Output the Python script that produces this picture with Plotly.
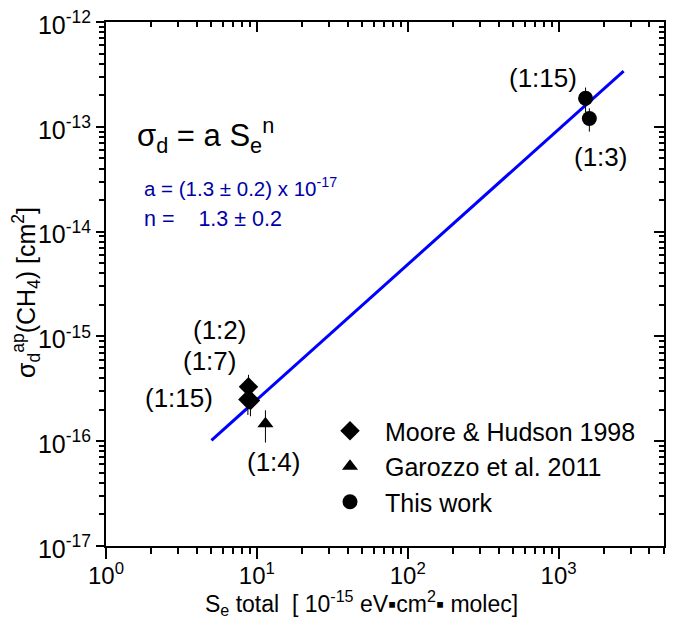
import plotly.graph_objects as go
import math

# ---------------- data ----------------
mh_x = [8.8, 8.72, 9.07]
mh_y = [3.3e-16, 2.5e-16, 2.45e-16]
mh_err = [1.0e-16, 0.72e-16, 0.72e-16]

gar_x = [11.4]
gar_y = [1.47e-16]
gar_err = [0.5e-16]

tw_x = [1510, 1600]
tw_y = [1.87e-13, 1.2e-13]
tw_err = [0.5e-13, 0.3e-13]

fit_x = [5, 2700]
fit_y = [1.02e-16, 3.4e-13]

x_major = [1, 10, 100, 1000]
x_major_text = ["10<sup>0</sup>", "10<sup>1</sup>", "10<sup>2</sup>", "10<sup>3</sup>"]
y_major = [1e-17, 1e-16, 1e-15, 1e-14, 1e-13, 1e-12]
y_major_text = ["10<sup>-17</sup>", "10<sup>-16</sup>", "10<sup>-15</sup>",
                "10<sup>-14</sup>", "10<sup>-13</sup>", "10<sup>-12</sup>"]

x_minor = [m * 10 ** e for e in range(0, 4) for m in range(2, 10) if m * 10 ** e <= 5000]
y_minor = [m * 10.0 ** e for e in range(-17, -12) for m in range(2, 10)]

FONT = "Liberation Sans, Arial, sans-serif"
W, H = 678, 627
L, R, T, B = 106, 14, 22, 81
PW, PH = W - L - R, H - T - B


def px(x):
    return (x - L) / PW


def py(y):
    return (H - B - y) / PH


fig = go.Figure()

fig.add_trace(go.Scatter(x=fit_x, y=fit_y, mode="lines",
                         line=dict(color="#0000FF", width=3), showlegend=False,
                         hoverinfo="skip"))

fig.add_trace(go.Scatter(x=mh_x, y=mh_y, mode="markers", name="Moore &amp; Hudson 1998",
                         marker=dict(symbol="diamond", size=15, color="black"),
                         error_y=dict(type="data", array=mh_err, color="black",
                                      thickness=1, width=0)))
fig.add_trace(go.Scatter(x=gar_x, y=gar_y, mode="markers", name="Garozzo et al. 2011",
                         marker=dict(symbol="triangle-up", size=14, color="black"),
                         error_y=dict(type="data", array=gar_err, color="black",
                                      thickness=1, width=0)))
fig.add_trace(go.Scatter(x=tw_x, y=tw_y, mode="markers", name="This work",
                         marker=dict(symbol="circle", size=15, color="black"),
                         error_y=dict(type="data", array=tw_err, color="black",
                                      thickness=1, width=0)))

# invisible trace for mirrored tick axes
fig.add_trace(go.Scatter(x=[10], y=[1e-15], xaxis="x2", yaxis="y2", mode="markers",
                         marker=dict(opacity=0), showlegend=False, hoverinfo="skip"))

xr = [0, math.log10(5000)]
yr = [-17, -12]

fig.update_layout(
    template="none",
    width=W, height=H,
    margin=dict(l=L, r=R, t=T, b=B, autoexpand=False),
    paper_bgcolor="white", plot_bgcolor="white",
    font=dict(family=FONT, color="black"),
    xaxis=dict(type="log", showgrid=False, zeroline=False, automargin=False,
               tickfont=dict(family=FONT, size=24, color="black"),
               range=xr, tickmode="array", tickvals=x_major, ticklabelstandoff=-4,
               ticktext=x_major_text, ticks="outside", ticklen=11, tickwidth=1.5,
               tickcolor="black",
               showline=True, linewidth=2, linecolor="black", mirror=True,
               minor=dict(tickmode="array", tickvals=x_minor, ticks="outside",
                          ticklen=6, tickwidth=1.5, tickcolor="black", showgrid=False)),
    yaxis=dict(type="log", showgrid=False, zeroline=False, automargin=False,
               tickfont=dict(family=FONT, size=25, color="black"),
               range=yr, tickmode="array", tickvals=y_major, ticklabelshift=3,
               ticktext=y_major_text, ticks="outside", ticklen=8, tickwidth=1.5,
               tickcolor="black",
               showline=True, linewidth=2, linecolor="black", mirror=True,
               minor=dict(tickmode="array", tickvals=y_minor, ticks="outside",
                          ticklen=5, tickwidth=1.5, tickcolor="black", showgrid=False)),
    xaxis2=dict(type="log", overlaying="x", side="top", range=xr, showgrid=False,
                zeroline=False, showticklabels=False, tickmode="array", tickvals=x_major,
                ticks="inside", ticklen=10, tickwidth=1.5, tickcolor="black",
                minor=dict(tickmode="array", tickvals=x_minor, ticks="inside",
                           ticklen=5, tickwidth=1.5, tickcolor="black", showgrid=False)),
    yaxis2=dict(type="log", overlaying="y", side="right", range=yr, showgrid=False,
                zeroline=False, showticklabels=False, tickmode="array", tickvals=y_major,
                ticks="inside", ticklen=10, tickwidth=1.5, tickcolor="black",
                minor=dict(tickmode="array", tickvals=y_minor, ticks="inside",
                           ticklen=5, tickwidth=1.5, tickcolor="black", showgrid=False)),
    legend=dict(x=px(315), y=py(408), xanchor="left", yanchor="top",
                bgcolor="rgba(0,0,0,0)", font=dict(family=FONT, size=25, color="black"),
                tracegroupgap=0, itemwidth=60, borderwidth=0),
    showlegend=True,
)

ann = []


def add_text(text, x, y, size, color="black", xanchor="center", angle=0):
    ann.append(dict(text=text, x=px(x), y=py(y), xref="paper", yref="paper",
                    showarrow=False, xanchor=xanchor, yanchor="middle",
                    textangle=angle,
                    font=dict(family=FONT, size=size, color=color)))


NB = "\u00a0"
# axis titles
add_text("σ<sub>d</sub><sup>ap</sup>(CH<sub>4</sub>) [cm<sup>2</sup>]", 26, 293, 25, angle=-90)
add_text("S<sub>e</sub> total" + NB * 2 + "[ 10<sup>-15</sup> eV\u25aacm<sup>2</sup>\u25aa molec]",
         361, 603, 23)

# equation
add_text("σ<sub>d</sub> = a S<sub>e</sub><sup>n</sup>", 135, 135, 31, xanchor="left")
add_text("a = (1.3 ± 0.2) x 10<sup>-17</sup>", 142, 187, 20.5, color="#0000A8", xanchor="left")
add_text("n =" + NB * 4 + "1.3 ± 0.2", 142, 219, 21.5,
         color="#0000A8", xanchor="left")

# point labels
add_text("(1:15)", 543, 78, 26)
add_text("(1:3)", 600, 157, 26)
add_text("(1:2)", 219, 330, 26)
add_text("(1:7)", 209, 361, 26)
add_text("(1:15)", 179, 398, 26)
add_text("(1:4)", 273, 462, 26)

fig.update_layout(annotations=ann)

fig.write_html("out.html", config={"displayModeBar": False},
               post_script="document.body.style.margin='0';document.body.style.padding='0';")
